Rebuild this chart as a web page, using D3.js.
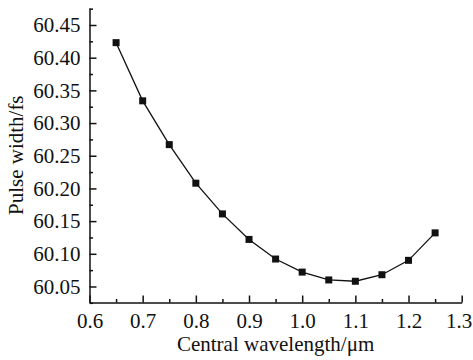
<!DOCTYPE html>
<html lang="en">
<head>
  <meta charset="UTF-8" />
  <title>Pulse width vs central wavelength</title>
  <script src="https://d3js.org/d3.v7.min.js"></script>
  <style>
    body { margin: 0; padding: 0; background: white; }
    svg { display: block; }
  </style>
</head>
<body>
  <svg id="chart" width="473" height="360"></svg>
  <script>
    // data
    const wavelengths = [0.65, 0.70, 0.75, 0.80, 0.85, 0.90, 0.95, 1.00, 1.05, 1.10, 1.15, 1.20, 1.25];
    const pulseWidths = [60.423, 60.334, 60.267, 60.208, 60.161, 60.122, 60.092, 60.072, 60.060, 60.058, 60.068, 60.090, 60.132];
    const xTicks = [0.6, 0.7, 0.8, 0.9, 1.0, 1.1, 1.2, 1.3];
    const yTicks = [60.05, 60.10, 60.15, 60.20, 60.25, 60.30, 60.35, 60.40, 60.45];

    const serif = '"Liberation Serif", "Times New Roman", serif';
    const svg = d3.select("#chart");
    const plotLeft = 89.5, plotRight = 461.7, plotTop = 8, plotBottom = 302.5;

    const x = d3.scaleLinear().domain([0.6, 1.3]).range([plotLeft, plotRight]);
    const y = d3.scaleLinear().domain([60.0255, 60.476]).range([plotBottom, plotTop]);

    // minor ticks halfway between majors
    const xMinor = d3.range(0.65, 1.3, 0.1);
    const yMinor = d3.range(60.025, 60.476, 0.05).map(d => +d.toFixed(3));

    const xAxis = svg.append("g").attr("transform", `translate(0,${plotBottom})`)
      .call(d3.axisBottom(x).tickValues(xTicks).tickFormat(d3.format(".1f")).tickSizeInner(-7).tickSizeOuter(0).tickPadding(11));

    svg.append("g").attr("transform", `translate(0,${plotBottom})`)
      .call(d3.axisBottom(x).tickValues(xMinor).tickFormat("").tickSizeInner(-3.5).tickSizeOuter(0))
      .select(".domain").remove();

    svg.append("g").attr("transform", `translate(${plotLeft},0)`)
      .call(d3.axisLeft(y).tickValues(yTicks).tickFormat(d3.format(".2f")).tickSizeInner(-7).tickSizeOuter(0).tickPadding(9));

    svg.append("g").attr("transform", `translate(${plotLeft},0)`)
      .call(d3.axisLeft(y).tickValues(yMinor).tickFormat("").tickSizeInner(-3.5).tickSizeOuter(0))
      .select(".domain").remove();

    svg.selectAll(".tick text")
      .attr("font-family", serif)
      .attr("font-size", 21)
      .attr("fill", "#111");
    // last label sits at the window edge, nudge it in
    xAxis.selectAll(".tick text").filter(d => d === 1.3).attr("dx", -3);
    svg.selectAll(".domain, .tick line").attr("stroke", "#111").attr("stroke-width", 1.5);

    const pts = wavelengths.map((w, i) => ({ w: w, p: pulseWidths[i] }));

    svg.append("path")
      .datum(pts)
      .attr("fill", "none")
      .attr("stroke", "#111")
      .attr("stroke-width", 1.3)
      .attr("d", d3.line().x(d => x(d.w)).y(d => y(d.p)));

    const s = 7;
    svg.selectAll("rect.pt")
      .data(pts)
      .enter()
      .append("rect")
      .attr("class", "pt")
      .attr("x", d => x(d.w) - s / 2)
      .attr("y", d => y(d.p) - s / 2)
      .attr("width", s)
      .attr("height", s)
      .attr("fill", "#111");

    svg.append("text")
      .attr("x", (plotLeft + plotRight) / 2)
      .attr("y", 351)
      .attr("text-anchor", "middle")
      .attr("font-family", serif)
      .attr("font-size", 21)
      .attr("fill", "#111")
      .text("Central wavelength/μm");

    svg.append("text")
      .attr("transform", `translate(23,${(plotTop + plotBottom) / 2}) rotate(-90)`)
      .attr("text-anchor", "middle")
      .attr("font-family", serif)
      .attr("font-size", 21)
      .attr("fill", "#111")
      .text("Pulse width/fs");
  </script>
</body>
</html>
